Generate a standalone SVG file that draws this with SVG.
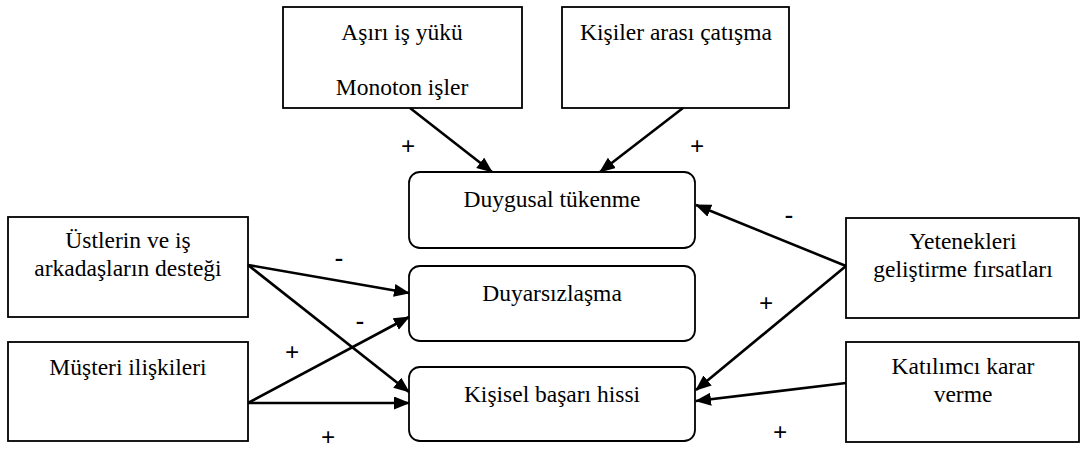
<svg xmlns="http://www.w3.org/2000/svg" width="1082" height="452" viewBox="0 0 1082 452" font-family="Liberation Serif, Times New Roman, Tinos, Nimbus Roman, DejaVu Serif, serif">
  <defs>
    <marker id="arrow" markerUnits="userSpaceOnUse" markerWidth="16" markerHeight="14" refX="15" refY="6.5" orient="auto">
      <path d="M0,0 L16,6.5 L0,13 z" fill="#000"/>
    </marker>
  </defs>
  <style>
    .box { fill: #fff; stroke: #000; stroke-width: 1.8; }
    .txt { font-size: 23.5px; fill: #000; text-anchor: middle; }
    .sign { font-size: 25px; font-weight: bold; fill: #000; text-anchor: middle; }
    .edge { stroke: #000; stroke-width: 2.6; fill: none; marker-end: url(#arrow); }
  </style>
  <rect width="1082" height="452" fill="#fff"/>

  <!-- source factors -->
  <g id="workload">
    <rect class="box" x="283" y="7" width="239" height="101"/>
    <text class="txt" x="402" y="40">Aşırı iş yükü</text>
    <text class="txt" x="402" y="95">Monoton işler</text>
  </g>
  <g id="conflict">
    <rect class="box" x="562" y="7" width="227" height="101"/>
    <text class="txt" x="676" y="40">Kişiler arası çatışma</text>
  </g>
  <g id="support">
    <rect class="box" x="8" y="217" width="240" height="100"/>
    <text class="txt" x="128" y="248">Üstlerin ve iş</text>
    <text class="txt" x="128" y="276">arkadaşların desteği</text>
  </g>
  <g id="customer">
    <rect class="box" x="8" y="342" width="240" height="99"/>
    <text class="txt" x="128" y="375">Müşteri ilişkileri</text>
  </g>
  <g id="skills">
    <rect class="box" x="846" y="218" width="233" height="100"/>
    <text class="txt" x="963" y="249">Yetenekleri</text>
    <text class="txt" x="963" y="277">geliştirme fırsatları</text>
  </g>
  <g id="participation">
    <rect class="box" x="846" y="342" width="233" height="100"/>
    <text class="txt" x="963" y="374">Katılımcı karar</text>
    <text class="txt" x="963" y="402">verme</text>
  </g>

  <!-- burnout dimensions -->
  <g id="exhaustion">
    <rect class="box" x="409" y="172" width="286" height="76" rx="11"/>
    <text class="txt" x="552" y="207">Duygusal tükenme</text>
  </g>
  <g id="depersonalization">
    <rect class="box" x="409" y="266" width="286" height="75" rx="11"/>
    <text class="txt" x="552" y="301">Duyarsızlaşma</text>
  </g>
  <g id="accomplishment">
    <rect class="box" x="409" y="367" width="286" height="74" rx="11"/>
    <text class="txt" x="552" y="402">Kişisel başarı hissi</text>
  </g>

  <!-- connectors -->
  <g id="connectors">
    <line class="edge" x1="410" y1="108" x2="492" y2="172"/>
    <line class="edge" x1="683" y1="108" x2="600" y2="172"/>
    <line class="edge" x1="846" y1="266" x2="696" y2="205"/>
    <line class="edge" x1="846" y1="266" x2="696" y2="390"/>
    <line class="edge" x1="846" y1="383" x2="696" y2="401"/>
    <line class="edge" x1="248" y1="265" x2="409" y2="293"/>
    <line class="edge" x1="248" y1="265" x2="409" y2="392"/>
    <line class="edge" x1="248" y1="403" x2="409" y2="317"/>
    <line class="edge" x1="248" y1="403" x2="409" y2="403"/>
  </g>

  <!-- effect signs -->
  <g id="signs">
    <text class="sign" x="408" y="155">+</text>
    <text class="sign" x="697" y="155">+</text>
    <text class="sign" x="789" y="223">-</text>
    <text class="sign" x="766" y="312">+</text>
    <text class="sign" x="780" y="441">+</text>
    <text class="sign" x="339" y="266">-</text>
    <text class="sign" x="360" y="329">-</text>
    <text class="sign" x="292" y="361">+</text>
    <text class="sign" x="328" y="446">+</text>
  </g>
</svg>
